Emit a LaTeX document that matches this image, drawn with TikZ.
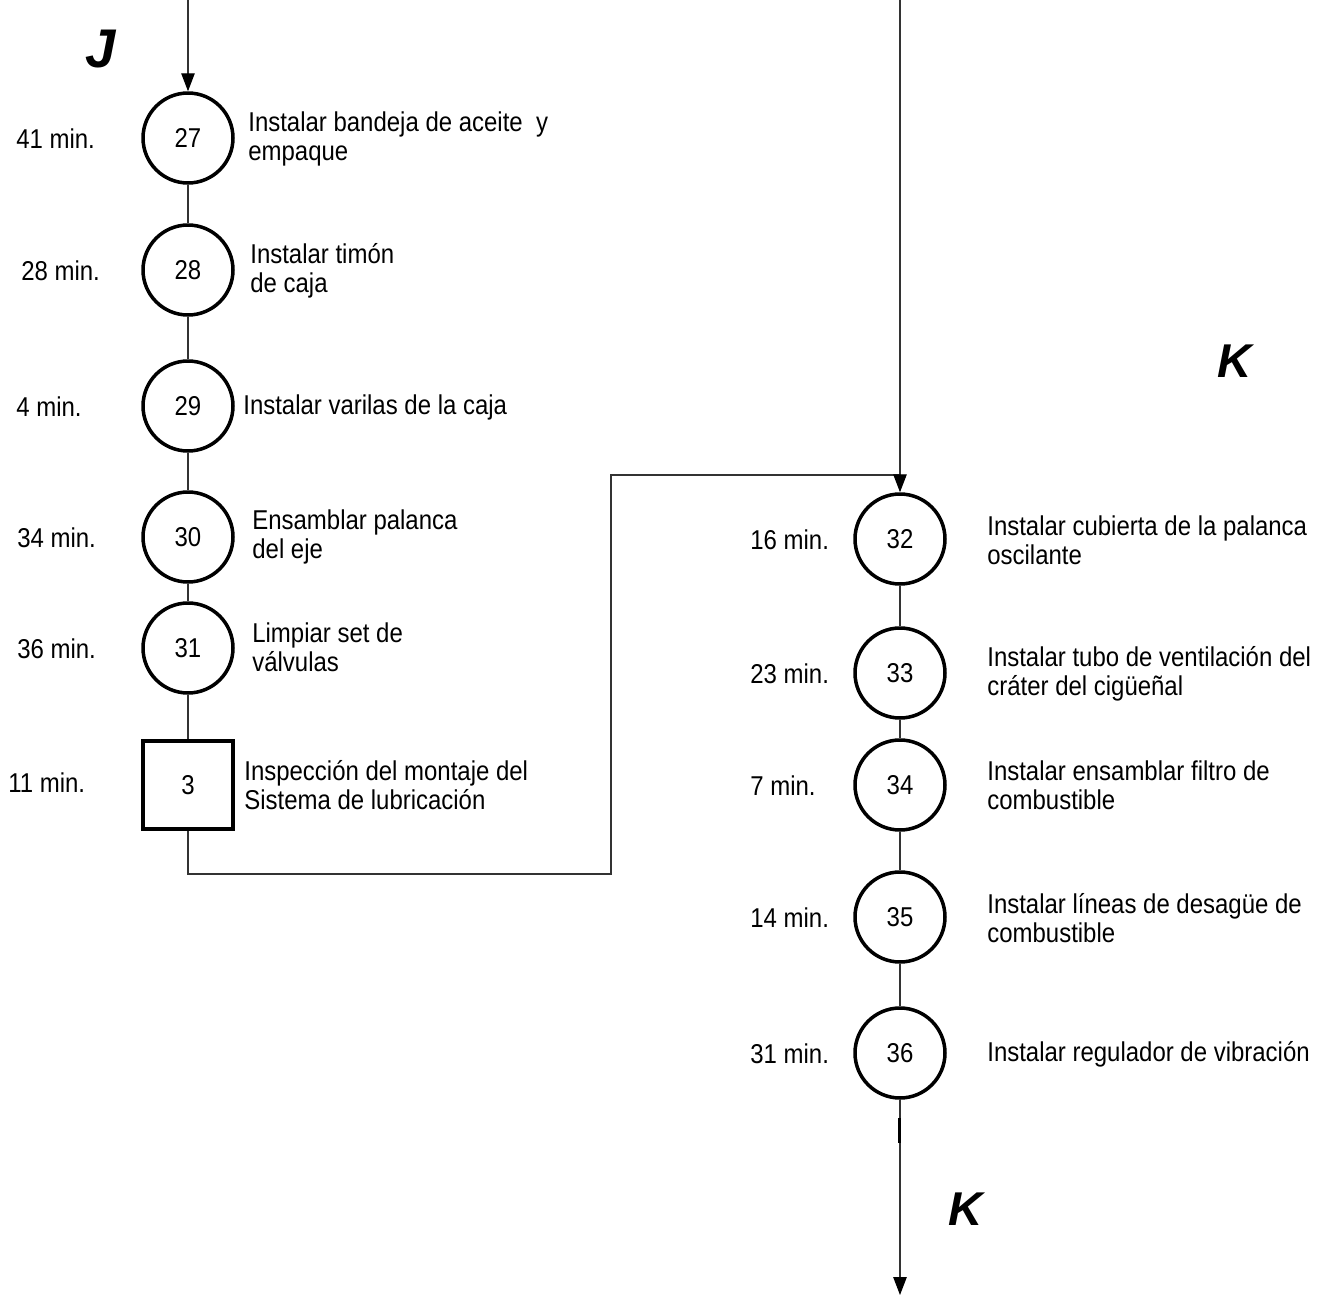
\documentclass[tikz,border=0pt]{standalone}
\usepackage{fontspec}
\setmainfont{Liberation Sans}[FakeStretch=0.88]
\newfontfamily\letterfont{Liberation Sans}
\usetikzlibrary{arrows.meta}
\begin{document}
\begin{tikzpicture}[x=0.02cm,y=-0.02cm,
  every node/.style={font=\fontsize{15.5}{16.3}\selectfont},
  opcircle/.style={circle,draw,line width=2pt,minimum size=1.8cm,inner sep=0pt},
  inspbox/.style={rectangle,draw,line width=2pt,minimum width=1.8cm,minimum height=1.76cm,inner sep=0pt},
  flow/.style={draw=black!80,line width=0.6pt},
  flowarrow/.style={flow,-{Triangle[length=0.36cm,width=0.27cm,color=black]}},
  desc/.style={anchor=west,align=left,inner sep=0pt},
  tlabel/.style={anchor=west,inner sep=0pt},
  letter/.style={inner sep=0pt}]
\useasboundingbox (0,0) rectangle (1326,1295);

% left column
\node[opcircle] (c27) at (188,138) {27};
\node[opcircle] (c28) at (188,270) {28};
\node[opcircle] (c29) at (188,406) {29};
\node[opcircle] (c30) at (188,537) {30};
\node[opcircle] (c31) at (188,648) {31};
\node[inspbox]  (c3)  at (188,785) {3};

% right column
\node[opcircle] (c32) at (900,539) {32};
\node[opcircle] (c33) at (900,673) {33};
\node[opcircle] (c34) at (900,785) {34};
\node[opcircle] (c35) at (900,917) {35};
\node[opcircle] (c36) at (900,1053) {36};

% times
\node[tlabel] (t27) at (16,139) {41 min.};
\node[tlabel] (t28) at (21,271) {28 min.};
\node[tlabel] (t29) at (16,407) {4 min.};
\node[tlabel] (t30) at (17,538) {34 min.};
\node[tlabel] (t31) at (17,649) {36 min.};
\node[tlabel] (t3)  at (8,783)  {11 min.};
\node[tlabel] (t32) at (750,540) {16 min.};
\node[tlabel] (t33) at (750,674) {23 min.};
\node[tlabel] (t34) at (750,786) {7 min.};
\node[tlabel] (t35) at (750,918) {14 min.};
\node[tlabel] (t36) at (750,1054) {31 min.};

% descriptions
\node[desc] (d27) at (248,139) {Instalar bandeja de aceite\ \ y\\empaque};
\node[desc] (d28) at (250,271) {Instalar timón\\de caja};
\node[desc] (d29) at (243,407) {Instalar varilas de la caja};
\node[desc] (d30) at (252,537) {Ensamblar palanca\\del eje};
\node[desc] (d31) at (252,647) {Limpiar set de\\válvulas};
\node[desc] (d3)  at (244,785) {Inspección del montaje del\\Sistema de lubricación};
\node[desc] (d32) at (987,540) {Instalar cubierta de la palanca\\oscilante};
\node[desc] (d33) at (987,674) {Instalar tubo de ventilación del\\cráter del cigüeñal};
\node[desc] (d34) at (987,785) {Instalar ensamblar filtro de\\combustible};
\node[desc] (d35) at (987,918) {Instalar líneas de desagüe de\\combustible};
\node[desc] (d36) at (987,1054) {Instalar regulador de vibración};

% connector letters
\node[letter,font=\letterfont\fontsize{31}{31}\selectfont\bfseries\itshape] (lJ)  at (101,49)  {J};
\node[letter,font=\letterfont\fontsize{27}{27}\selectfont\bfseries\itshape] (lK1) at (1235,361) {K};
\node[letter,font=\letterfont\fontsize{27}{27}\selectfont\bfseries\itshape] (lK2) at (966,1209) {K};

% connector end points
\coordinate (inJ)  at (188,0);
\coordinate (inK)  at (900,0);
\coordinate (b1)   at (188,874);
\coordinate (b2)   at (611,874);
\coordinate (b3)   at (611,475);
\coordinate (join) at (900,475);
\coordinate (outK) at (900,1295);

% left flow
\draw[flowarrow] (inJ) -- (c27);
\draw[flow] (c27) -- (c28);
\draw[flow] (c28) -- (c29);
\draw[flow] (c29) -- (c30);
\draw[flow] (c30) -- (c31);
\draw[flow] (c31) -- (c3);
\draw[flow] (c3) -- (b1) -- (b2) -- (b3) -- (join);

% right flow
\draw[flowarrow] (inK) -- (c32);
\draw[flow] (c32) -- (c33);
\draw[flow] (c33) -- (c34);
\draw[flow] (c34) -- (c35);
\draw[flow] (c35) -- (c36);
\draw[flowarrow] (c36) -- (outK);
\draw[line width=1.6pt] (899.5,1118) -- (899.5,1143);
\end{tikzpicture}
\end{document}
